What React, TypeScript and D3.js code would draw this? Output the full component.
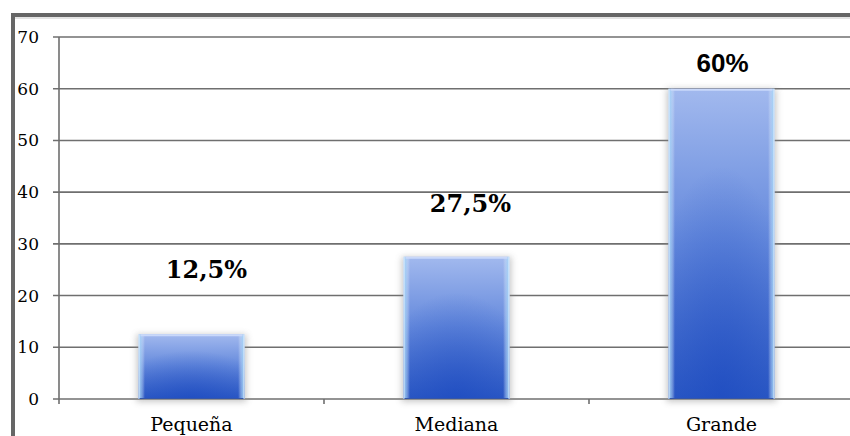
import React from "react";
import * as d3 from "d3";

const categories = ["Pequeña", "Mediana", "Grande"];
const values = [12.5, 27.5, 60];
const valueLabels = ["12,5%", "27,5%", "60%"];
const yTicks = [0, 10, 20, 30, 40, 50, 60, 70];

const W = 850;
const H = 436;

export default function App() {
  const y = d3.scaleLinear().domain([0, 70]).range([399, 37]);
  const x = d3.scaleBand<string>().domain(categories).range([59, 854]).padding(0);
  const barW = x.bandwidth() * 0.4;
  // label layout (manual placement as in the original)
  const labelDx = [15, 14, 1];
  const labelDy = [-56, -45, -17];
  const labelFont = [
    { family: "DejaVu Serif", size: 24 },
    { family: "DejaVu Serif", size: 24 },
    { family: "Liberation Sans", size: 26 },
  ];
  const gridColor = "#6f6f6f";

  return (
    <svg
      width={W}
      height={H}
      style={{ position: "absolute", left: 0, top: 0, background: "#fff" }}
    >
      <defs>
        <linearGradient id="barV" x1="0" y1="0" x2="0" y2="1">
          <stop offset="0" stopColor="#a2b9ee" />
          <stop offset="0.5" stopColor="#6388dc" />
          <stop offset="1" stopColor="#2c59c4" />
        </linearGradient>
        <radialGradient id="barR" cx="0.5" cy="1" r="0.75">
          <stop offset="0" stopColor="#1a48c0" stopOpacity="0.6" />
          <stop offset="1" stopColor="#1a48c0" stopOpacity="0" />
        </radialGradient>
        <linearGradient id="barH" x1="0" y1="0" x2="1" y2="0">
          <stop offset="0" stopColor="#e6f6ff" stopOpacity="1" />
          <stop offset="0.02" stopColor="#a8d6f8" stopOpacity="0.7" />
          <stop offset="0.06" stopColor="#ffffff" stopOpacity="0" />
          <stop offset="0.94" stopColor="#ffffff" stopOpacity="0" />
          <stop offset="0.98" stopColor="#a8d6f8" stopOpacity="0.7" />
          <stop offset="1" stopColor="#e6f6ff" stopOpacity="1" />
        </linearGradient>
        <filter id="shadow" x="-20%" y="-20%" width="140%" height="140%">
          <feGaussianBlur stdDeviation="3" />
        </filter>
      </defs>

      {/* frame */}
      <line x1={11} x2={W} y1={15} y2={15} stroke="#666" strokeWidth={4} />
      <line x1={15} x2={W} y1={18} y2={18} stroke="#c8c8c8" strokeWidth={1} />
      <line x1={13} x2={13} y1={13} y2={H} stroke="#666" strokeWidth={4} />

      {/* gridlines */}
      {yTicks.map((t) => (
        <g key={t}>
          <line x1={53} x2={W} y1={y(t)} y2={y(t)} stroke={gridColor} strokeWidth={1.6} />
          <text
            x={39}
            y={y(t) + 6}
            textAnchor="end"
            fontFamily="DejaVu Serif"
            fontSize={17}
            fill="#000"
          >
            {t}
          </text>
        </g>
      ))}
      {/* y axis */}
      <line x1={59} x2={59} y1={y(70)} y2={y(0) + 5} stroke={gridColor} strokeWidth={1.6} />
      {/* category ticks */}
      {categories.slice(1).map((c) => (
        <line
          key={c}
          x1={x(c)!}
          x2={x(c)!}
          y1={y(0)}
          y2={y(0) + 5}
          stroke={gridColor}
          strokeWidth={1.6}
        />
      ))}

      {/* bars */}
      {categories.map((c, i) => {
        const cx = x(c)! + x.bandwidth() / 2;
        const bx = cx - barW / 2;
        const by = y(values[i]);
        const bh = y(0) - by;
        return (
          <g key={c}>
            <rect
              x={bx - 2}
              y={by}
              width={barW + 4}
              height={bh + 3}
              fill="#8a8a8a"
              opacity={0.45}
              filter="url(#shadow)"
            />
            <rect x={bx} y={by} width={barW} height={bh} fill="url(#barV)" />
            <rect x={bx} y={by} width={barW} height={bh} fill="url(#barR)" />
            <rect x={bx} y={by} width={barW} height={bh} fill="url(#barH)" />
            <line x1={bx + 2} x2={bx + barW - 2} y1={by + 1} y2={by + 1} stroke="#c9d8fa" strokeWidth={2} />
            <line x1={bx + 1} x2={bx + barW - 1} y1={by + bh - 0.5} y2={by + bh - 0.5} stroke="#3556a8" strokeWidth={1} />
            <text
              x={cx + labelDx[i]}
              y={by + labelDy[i]}
              textAnchor="middle"
              fontFamily={labelFont[i].family}
              fontSize={labelFont[i].size}
              fontWeight="bold"
              fill="#000"
            >
              {valueLabels[i]}
            </text>
            <text
              x={cx}
              y={431}
              textAnchor="middle"
              fontFamily="DejaVu Serif"
              fontSize={19}
              fill="#000"
            >
              {c}
            </text>
          </g>
        );
      })}
    </svg>
  );
}
